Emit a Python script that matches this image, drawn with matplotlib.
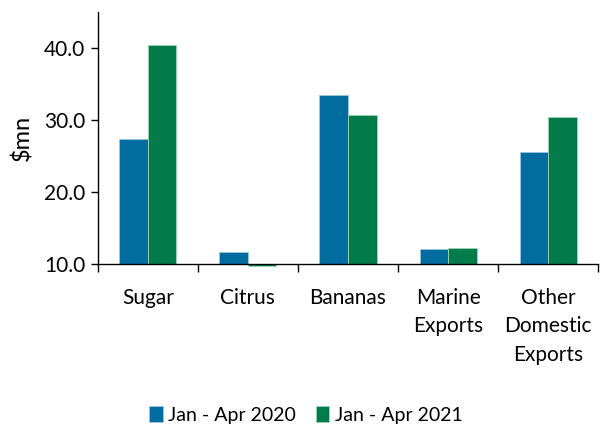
import matplotlib
matplotlib.use("Agg")
import matplotlib.pyplot as plt
import numpy as np

categories = ["Sugar", "Citrus", "Bananas", "Marine\nExports", "Other\nDomestic\nExports"]
series_names = ["Jan - Apr 2020", "Jan - Apr 2021"]
values_2020 = [27.4, 11.7, 33.5, 12.1, 25.6]
values_2021 = [40.4, 9.8, 30.7, 12.2, 30.4]
y_ticks = [10.0, 20.0, 30.0, 40.0]
base = 10.0  # value axis crosses here

plt.rcParams['font.family'] = ['Lato', 'DejaVu Sans']

fig = plt.figure(figsize=(6, 4.28), dpi=100)
ax = fig.add_axes([0.163, 0.383, 0.834, 0.589])

x = np.arange(len(categories))
w = 0.285
blue = "#006ca0"
green = "#007b49"
ax.bar(x - w / 2, np.array(values_2020) - base, w, bottom=base, color=blue,
       edgecolor="#9cc7dd", lw=0.6, label=series_names[0], clip_on=False, zorder=1)
ax.bar(x + w / 2, np.array(values_2021) - base, w, bottom=base, color=green,
       edgecolor="#9cd6b5", lw=0.6, label=series_names[1], clip_on=False, zorder=1)

ax.set_ylim(10, 45)
ax.set_xlim(-0.5, len(categories) - 0.5)
ax.set_yticks(y_ticks)
ax.set_yticklabels([f"{v:.1f}" for v in y_ticks], fontsize=15)
ax.tick_params(axis='y', direction='out', length=5, width=1, pad=4)

ax.set_xticks(np.arange(len(categories) + 1) - 0.5, minor=False)
ax.set_xticklabels([])
ax.tick_params(axis='x', direction='out', length=6, width=1)
ax.set_xticks(x, minor=True)
ax.set_xticklabels(categories, minor=True, fontsize=15, linespacing=1.55, va='top')
ax.tick_params(axis='x', which='minor', length=0, pad=17)

for s in ["top", "right"]:
    ax.spines[s].set_visible(False)
ax.spines["left"].set_linewidth(1)
ax.spines["bottom"].set_linewidth(1)
ax.spines["bottom"].set_zorder(3)

ax.set_ylabel("$mn", fontsize=17, labelpad=8)

fig.legend(loc="center", bbox_to_anchor=(0.51, 0.03), ncol=2, frameon=False,
           fontsize=14, handlelength=0.7, handleheight=0.9, handletextpad=0.3,
           columnspacing=1.0)

fig.savefig("out.png", dpi=100)
